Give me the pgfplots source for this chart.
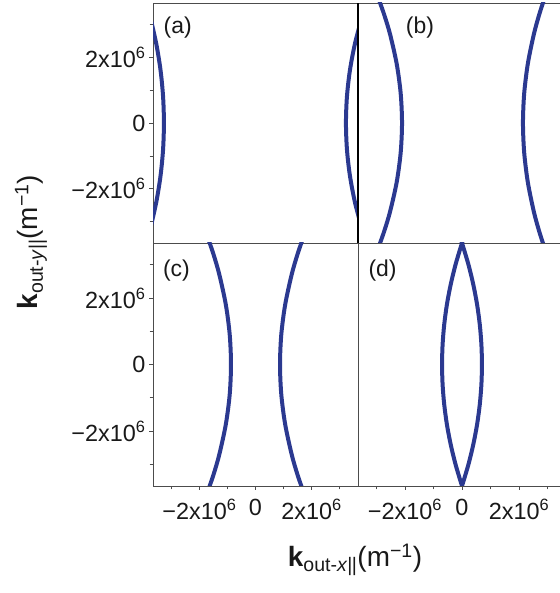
\documentclass[border=0pt]{standalone}
\usepackage{fontspec}
\setmainfont{Liberation Sans}
\usepackage{pgfplots}
\pgfplotsset{compat=1.18}
\definecolor{cblue}{HTML}{2B3990}

\pgfplotsset{
  panel/.style={
    scale only axis,
    scaled ticks=false,
    ymin=-3.65e6, ymax=3.65e6,
    axis line style={black!70, line width=0.9bp},
    tick align=outside,
    tick pos=left,
    major tick length=4bp, minor tick length=3.5bp,
    tick style={black!70, line width=0.7bp},
    tick label style={font=\fontsize{23.5}{25}\selectfont, text=black!90},
    xticklabel style={yshift=-6bp},
    xtick=\empty, ytick=\empty,
  },
  xt/.style={
    xtick={-2e6,0,2e6}, minor xtick={-3e6,-1e6,1e6,3e6},
    xticklabels={−2x10\textsuperscript{6},0,2x10\textsuperscript{6}},
  },
  yt/.style={
    ytick={-2e6,0,2e6}, minor ytick={-3e6,-1e6,1e6,3e6},
    yticklabels={−2x10\textsuperscript{6},0,2x10\textsuperscript{6}},
  },
  openright/.style={axis x line*=box, axis y line*=left},
  curve/.style={cblue, line width=4bp, smooth, no markers},
}
\tikzset{plab/.style={anchor=west, font=\fontsize{23}{25}\selectfont, text=black!90}}

\begin{document}
\begin{tikzpicture}
% (a)
\begin{axis}[panel, yt, at={(153bp,590bp)}, anchor=north west,
  width=205bp, height=240bp, xmin=-3.66e6, xmax=3.66e6]
\addplot[curve] coordinates {
 (-3.752e6,-3.2e6) (-3.541e6,-2.4e6) (-3.390e6,-1.6e6) (-3.300e6,-0.8e6) (-3.27e6,0)
 (-3.300e6,0.8e6) (-3.390e6,1.6e6) (-3.541e6,2.4e6) (-3.752e6,3.2e6)};
\addplot[curve] coordinates {
 (3.796e6,-3.2e6) (3.548e6,-2.4e6) (3.371e6,-1.6e6) (3.265e6,-0.8e6) (3.23e6,0)
 (3.265e6,0.8e6) (3.371e6,1.6e6) (3.548e6,2.4e6) (3.796e6,3.2e6)};
\node[plab] at (rel axis cs:0.035,0.896) {(a)};
\end{axis}
% (b)
\begin{axis}[panel, openright, at={(358bp,590bp)}, anchor=north west,
  width=202bp, height=240bp, xmin=-3.65e6, xmax=3.44e6,
  y axis line style={black, line width=1.8bp}]
\addplot[curve] coordinates {
 (-2.937e6,-3.8e6) (-2.733e6,-3.3e6) (-2.525e6,-2.7e6) (-2.292e6,-1.8e6) (-2.152e6,-0.9e6) (-2.105e6,0)
 (-2.152e6,0.9e6) (-2.292e6,1.8e6) (-2.525e6,2.7e6) (-2.733e6,3.3e6) (-2.937e6,3.8e6)};
\addplot[curve] coordinates {
 (2.897e6,-3.8e6) (2.711e6,-3.3e6) (2.522e6,-2.7e6) (2.310e6,-1.8e6) (2.183e6,-0.9e6) (2.140e6,0)
 (2.183e6,0.9e6) (2.310e6,1.8e6) (2.522e6,2.7e6) (2.711e6,3.3e6) (2.897e6,3.8e6)};
\node[plab] at (rel axis cs:0.22,0.896) {(b)};
\end{axis}
% (c)
\begin{axis}[panel, xt, yt, at={(153bp,350bp)}, anchor=north west,
  width=205bp, height=243bp, xmin=-3.66e6, xmax=3.66e6]
\addplot[curve] coordinates {
 (-1.699e6,-3.8e6) (-1.496e6,-3.3e6) (-1.291e6,-2.7e6) (-1.060e6,-1.8e6) (-0.921e6,-0.9e6) (-0.875e6,0)
 (-0.921e6,0.9e6) (-1.060e6,1.8e6) (-1.291e6,2.7e6) (-1.496e6,3.3e6) (-1.699e6,3.8e6)};
\addplot[curve] coordinates {
 (1.699e6,-3.8e6) (1.496e6,-3.3e6) (1.291e6,-2.7e6) (1.060e6,-1.8e6) (0.921e6,-0.9e6) (0.875e6,0)
 (0.921e6,0.9e6) (1.060e6,1.8e6) (1.291e6,2.7e6) (1.496e6,3.3e6) (1.699e6,3.8e6)};
\node[plab] at (rel axis cs:0.032,0.885) {(c)};
\end{axis}
% (d)
\begin{axis}[panel, openright, xt, at={(358bp,350bp)}, anchor=north west,
  width=202bp, height=243bp, xmin=-3.65e6, xmax=3.44e6]
\addplot[curve] coordinates {
 (0.059e6,-3.8e6) (0,-3.65e6) (-0.227e6,-3.0e6) (-0.397e6,-2.4e6) (-0.530e6,-1.8e6) (-0.624e6,-1.2e6)
 (-0.681e6,-0.6e6) (-0.70e6,0) (-0.681e6,0.6e6) (-0.624e6,1.2e6) (-0.530e6,1.8e6) (-0.397e6,2.4e6)
 (-0.227e6,3.0e6) (0,3.65e6) (0.059e6,3.8e6)};
\addplot[curve] coordinates {
 (-0.059e6,-3.8e6) (0,-3.65e6) (0.227e6,-3.0e6) (0.397e6,-2.4e6) (0.530e6,-1.8e6) (0.624e6,-1.2e6)
 (0.681e6,-0.6e6) (0.70e6,0) (0.681e6,0.6e6) (0.624e6,1.2e6) (0.530e6,1.8e6) (0.397e6,2.4e6)
 (0.227e6,3.0e6) (0,3.65e6) (-0.059e6,3.8e6)};
\node[plab] at (rel axis cs:0.035,0.885) {(d)};
\end{axis}
% axis titles
\node[font=\fontsize{28}{30}\selectfont, text=black!90] at (355bp,33bp)
  {\textbf{k}\textsubscript{out-\textit{x}|\kern-0.6pt|}(m\textsuperscript{−1})};
\node[rotate=90, font=\fontsize{28}{30}\selectfont, text=black!90] at (31bp,351bp)
  {\textbf{k}\textsubscript{out-\textit{y}|\kern-0.6pt|}(m\textsuperscript{−1})};
\pgfresetboundingbox
\useasboundingbox (0,0) rectangle (560bp,593bp);
\end{tikzpicture}
\end{document}
